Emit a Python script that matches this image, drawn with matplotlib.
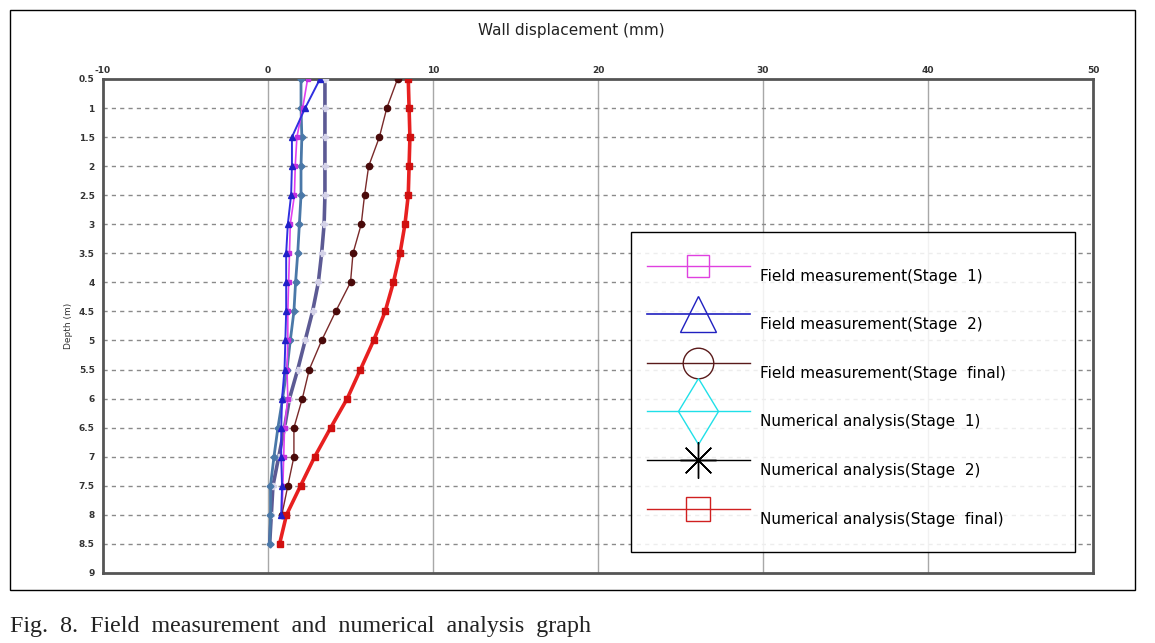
import matplotlib
matplotlib.use("Agg")
import matplotlib.pyplot as plt
import matplotlib.patches as mpatches
import matplotlib.transforms as mtransforms
from matplotlib.lines import Line2D
import numpy as np

# depths (m)
depth = [0.5, 1.0, 1.5, 2.0, 2.5, 3.0, 3.5, 4.0, 4.5, 5.0, 5.5, 6.0, 6.5, 7.0, 7.5, 8.0, 8.5]
depth_field = depth[:16]

# wall displacement (mm)
field_stage1 = [2.4, 2.1, 1.75, 1.65, 1.6, 1.35, 1.3, 1.25, 1.2, 1.2, 1.15, 1.2, 1.0, 0.95, 0.9, 0.85]
field_stage2 = [3.15, 2.25, 1.45, 1.45, 1.4, 1.2, 1.1, 1.1, 1.1, 1.05, 1.0, 0.85, 0.8, 0.8, 0.85, 0.8]
field_final = [7.85, 7.2, 6.75, 6.1, 5.85, 5.65, 5.15, 5.0, 4.1, 3.25, 2.5, 2.08, 1.57, 1.57, 1.2, 0.84]
num_stage1 = [2.0, 2.0, 2.05, 2.0, 2.0, 1.9, 1.8, 1.67, 1.57, 1.35, 1.15, 0.88, 0.6, 0.36, 0.15, 0.15, 0.1]
num_stage2 = [3.45, 3.45, 3.45, 3.45, 3.45, 3.4, 3.25, 3.05, 2.7, 2.25, 1.8, 1.3, 1.0, 0.65, 0.3, 0.2, 0.1]
num_final = [8.5, 8.55, 8.6, 8.55, 8.5, 8.3, 8.0, 7.6, 7.1, 6.4, 5.6, 4.8, 3.8, 2.83, 1.97, 1.12, 0.7]

x_ticks = [-10, 0, 10, 20, 30, 40, 50]
y_ticks = [0.5, 1, 1.5, 2, 2.5, 3, 3.5, 4, 4.5, 5, 5.5, 6, 6.5, 7, 7.5, 8, 8.5, 9]
y_ticklabels = ["0.5", "1", "1.5", "2", "2.5", "3", "3.5", "4", "4.5", "5",
                "5.5", "6", "6.5", "7", "7.5", "8", "8.5", "9"]

legend_labels = [
    "Field measurement(Stage  1)",
    "Field measurement(Stage  2)",
    "Field measurement(Stage  final)",
    "Numerical analysis(Stage  1)",
    "Numerical analysis(Stage  2)",
    "Numerical analysis(Stage  final)",
]

fig = plt.figure(figsize=(11.55, 6.43), dpi=100)
ax = fig.add_axes([0.0892, 0.1089, 0.8571, 0.7683])

# grid
for xv in x_ticks[1:-1]:
    ax.axvline(xv, color="#a8a8a8", lw=1.0, zorder=0)
for yv in y_ticks[1:-1]:
    ax.axhline(yv, color="#8a8a8a", lw=1.0, ls=(0, (3, 3)), zorder=0)

# series
ax.plot(num_stage2, depth, color="#5c5a94", lw=2.6, marker="P", ms=4,
        mfc="#d4d2e8", mec="#d4d2e8", zorder=3)
ax.plot(num_stage1, depth, color="#4a78a8", lw=2.0, marker="D", ms=3.5,
        mfc="#4a78a8", mec="#4a78a8", zorder=4)
ax.plot(field_stage1, depth_field, color="#e040f0", lw=1.2, marker="s", ms=3.5,
        mfc="#c030e0", mec="#c030e0", zorder=5)
ax.plot(field_stage2, depth_field, color="#3030e0", lw=1.4, marker="^", ms=4.5,
        mfc="#2020c8", mec="#2020c8", zorder=6)
ax.plot(field_final, depth_field, color="#7a2a2a", lw=1.0, marker="o", ms=4.5,
        mfc="#4a0a0a", mec="#4a0a0a", zorder=5)
ax.plot(num_final, depth, color="#e82020", lw=2.6, marker="s", ms=4,
        mfc="#d01010", mec="#d01010", zorder=5)

ax.set_xlim(-10, 50)
ax.set_ylim(9, 0.5)
ax.xaxis.tick_top()
ax.set_xticks(x_ticks)
ax.set_xticklabels([str(v) for v in x_ticks], fontsize=6.5, color="#333333",
                   fontweight="bold")
ax.set_yticks(y_ticks)
ax.set_yticklabels(y_ticklabels, fontsize=6.5, color="#333333", fontweight="bold")
ax.tick_params(axis="x", length=0, pad=3)
ax.tick_params(axis="y", length=0, pad=6)
ax.set_ylabel("Depth (m)", fontsize=6.5, color="#333333", labelpad=4)
for sp in ax.spines.values():
    sp.set_color("#555555")
    sp.set_linewidth(2.0)

# legend box drawn separately so its size can follow the original
ax.add_patch(mpatches.Rectangle((0.5333, 0.0425), 0.4485, 0.6478,
                                transform=ax.transAxes, facecolor="white",
                                alpha=0.85, edgecolor="none", zorder=8))
ax.add_patch(mpatches.Rectangle((0.5333, 0.0425), 0.4485, 0.6478,
                                transform=ax.transAxes, fill=False,
                                edgecolor="black", lw=1.0, zorder=9))

handles = [
    Line2D([], [], color="#e040e0", lw=1, marker="s", ms=16, mfc="none", mec="#e040e0"),
    Line2D([], [], color="#2020c0", lw=1.2, marker="^", ms=26, mfc="none", mec="#2020c0"),
    Line2D([], [], color="#5a1a1a", lw=1, marker="o", ms=22, mfc="none", mec="#5a1a1a"),
    Line2D([], [], color="#20e0e8", lw=1, marker="d", ms=34, mfc="none", mec="#20e0e8"),
    Line2D([], [], color="black", lw=1, marker=(8, 2, 0), ms=26, mec="black"),
    Line2D([], [], color="#d02020", lw=1, marker="s", ms=17, mfc="none", mec="#d02020"),
]
leg = ax.legend(handles, legend_labels, loc="center left",
                bbox_to_anchor=(0.5495, 0.3745), borderaxespad=0, borderpad=0,
                fontsize=11, handlelength=6.74, handletextpad=0.65,
                labelspacing=2.2, frameon=False)
leg.set_zorder(10)
shift = mtransforms.ScaledTranslation(0, -7 / 72, fig.dpi_scale_trans)
for t in leg.get_texts():
    t.set_transform(t.get_transform() + shift)

fig.text(0.495, 0.953, "Wall displacement (mm)", ha="center", va="center",
         fontsize=11, color="#222222")

# outer frame and caption
fig.add_artist(mpatches.Rectangle((0.0087, 0.0824), 0.974, 0.902,
                                  transform=fig.transFigure, fill=False,
                                  edgecolor="black", lw=1.0))
fig.text(0.0087, 0.017, "Fig.  8.  Field  measurement  and  numerical  analysis  graph",
         ha="left", va="baseline", fontsize=17.3, family="Liberation Serif",
         color="#222222")

fig.savefig("out.png", dpi=100, facecolor="white")
